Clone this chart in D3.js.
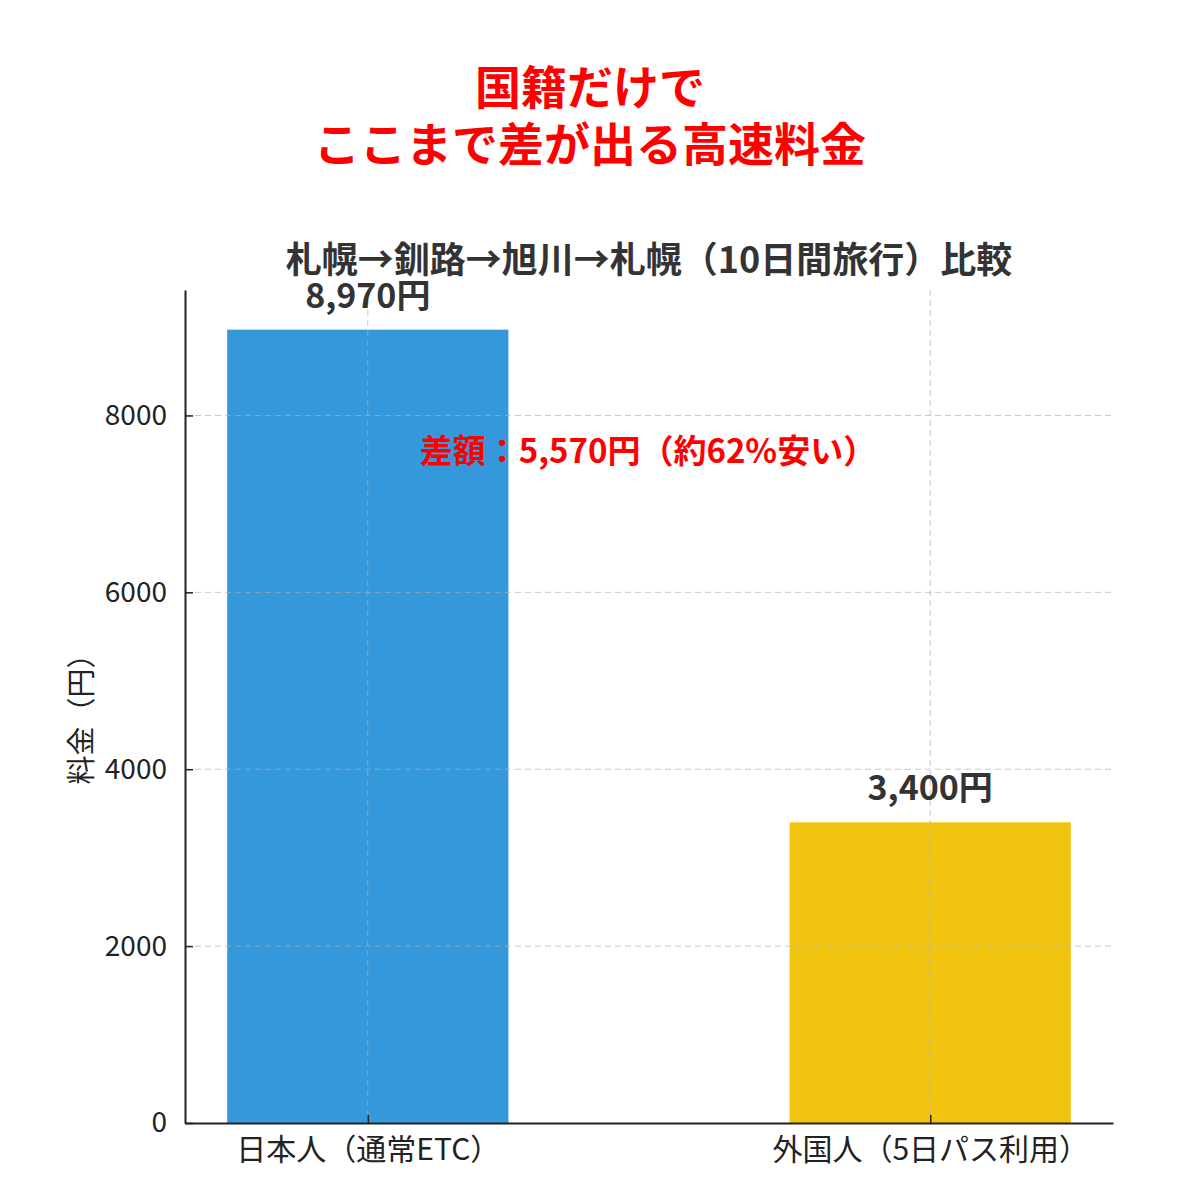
<!DOCTYPE html>
<html>
<head>
<meta charset="utf-8">
<script src="https://cdn.jsdelivr.net/npm/d3@7"></script>
<style>
  body { margin: 0; background: #fff; }
  text { font-family: "Noto Sans CJK JP", "Noto Sans", sans-serif; }
</style>
</head>
<body>
<main></main>
<script>
// Data
const categories = ["日本人（通常ETC）", "外国人（5日パス利用）"];
const fees = [8970, 3400];
const feeLabels = ["8,970円", "3,400円"];
const barColors = ["#3498db", "#f1c40f"];
const yTicks = [0, 2000, 4000, 6000, 8000];
const titleLines = ["国籍だけで", "ここまで差が出る高速料金"];
const subtitle = "札幌→釧路→旭川→札幌（10日間旅行）比較";
const diffNote = "差額：5,570円（約62%安い）";
const yLabel = "料金（円）";

// Dimensions
const width = 1178;
const height = 1198;
const margin = { top: 290, right: 65, bottom: 75, left: 185 };

const svg = d3.select("main")
  .append("svg")
  .attr("width", width)
  .attr("height", height);

// Scales (bars at 0 and 1, width 0.5, 5% padding like matplotlib)
const xScale = d3.scaleLinear()
  .domain([-0.325, 1.325])
  .range([margin.left, width - margin.right]);

const yMax = d3.max(fees) * 1.05;
const yScale = d3.scaleLinear()
  .domain([0, yMax])
  .range([height - margin.bottom, margin.top]);

const barW = xScale(0.5) - xScale(0);

// Bars
svg.selectAll(".bar")
  .data(fees)
  .enter()
  .append("rect")
  .attr("class", "bar")
  .attr("x", (d, i) => xScale(i) - barW / 2)
  .attr("y", d => yScale(d))
  .attr("width", barW)
  .attr("height", d => yScale(0) - yScale(d))
  .attr("fill", (d, i) => barColors[i]);

// Grid
const grid = svg.append("g").attr("stroke", "#b0b0b0").attr("stroke-opacity", 0.7)
  .attr("stroke-dasharray", "6,4").attr("stroke-width", 1);
grid.selectAll(".hg")
  .data(yTicks.filter(d => d > 0))
  .enter()
  .append("line")
  .attr("x1", margin.left)
  .attr("x2", width - margin.right)
  .attr("y1", d => yScale(d))
  .attr("y2", d => yScale(d));
grid.selectAll(".vg")
  .data(categories)
  .enter()
  .append("line")
  .attr("x1", (d, i) => xScale(i))
  .attr("x2", (d, i) => xScale(i))
  .attr("y1", margin.top)
  .attr("y2", height - margin.bottom);

// Axes
const yAxis = d3.axisLeft(yScale).tickValues(yTicks).tickFormat(d3.format("d"))
  .tickSizeInner(-8).tickSizeOuter(0).tickPadding(18);
const gy = svg.append("g")
  .attr("transform", `translate(${margin.left},0)`)
  .call(yAxis);
gy.select(".domain").attr("stroke", "#222").attr("stroke-width", 2);
gy.selectAll(".tick line").attr("stroke", "#222").attr("stroke-width", 1.5);
gy.selectAll(".tick text").attr("font-size", 28).attr("fill", "#222");

const xAxis = d3.axisBottom(xScale).tickValues([0, 1]).tickFormat((d, i) => categories[i])
  .tickSizeInner(-8).tickSizeOuter(0).tickPadding(16);
const gx = svg.append("g")
  .attr("transform", `translate(0,${height - margin.bottom})`)
  .call(xAxis);
gx.select(".domain").attr("stroke", "#222").attr("stroke-width", 2);
gx.selectAll(".tick line").attr("stroke", "#222").attr("stroke-width", 1.5);
gx.selectAll(".tick text").attr("font-size", 30).attr("fill", "#222");

// Value labels
svg.selectAll(".val")
  .data(fees)
  .enter()
  .append("text")
  .attr("x", (d, i) => xScale(i))
  .attr("y", d => yScale(d) - 22)
  .attr("text-anchor", "middle")
  .attr("font-size", 34)
  .attr("font-weight", "bold")
  .attr("fill", "#333")
  .text((d, i) => feeLabels[i]);

// Difference note
svg.append("text")
  .attr("x", xScale(0.5) - 1)
  .attr("y", 463)
  .attr("text-anchor", "middle")
  .attr("font-size", 33)
  .attr("font-weight", "bold")
  .attr("fill", "#ff0000")
  .text(diffNote);

// Subtitle
svg.append("text")
  .attr("x", (margin.left + width - margin.right) / 2)
  .attr("y", 273)
  .attr("text-anchor", "middle")
  .attr("font-size", 36)
  .attr("font-weight", "bold")
  .attr("fill", "#333")
  .text(subtitle);

// Title
svg.selectAll(".title")
  .data(titleLines)
  .enter()
  .append("text")
  .attr("x", 590)
  .attr("y", (d, i) => 104 + i * 57)
  .attr("text-anchor", "middle")
  .attr("font-size", 46)
  .attr("font-weight", "bold")
  .attr("fill", "#ff0000")
  .text(d => d);

// Axis label
svg.append("text")
  .attr("transform", "rotate(-90)")
  .attr("x", -712)
  .attr("y", 92)
  .attr("text-anchor", "middle")
  .attr("font-size", 29)
  .attr("fill", "#222")
  .text(yLabel);
</script>
</body>
</html>
